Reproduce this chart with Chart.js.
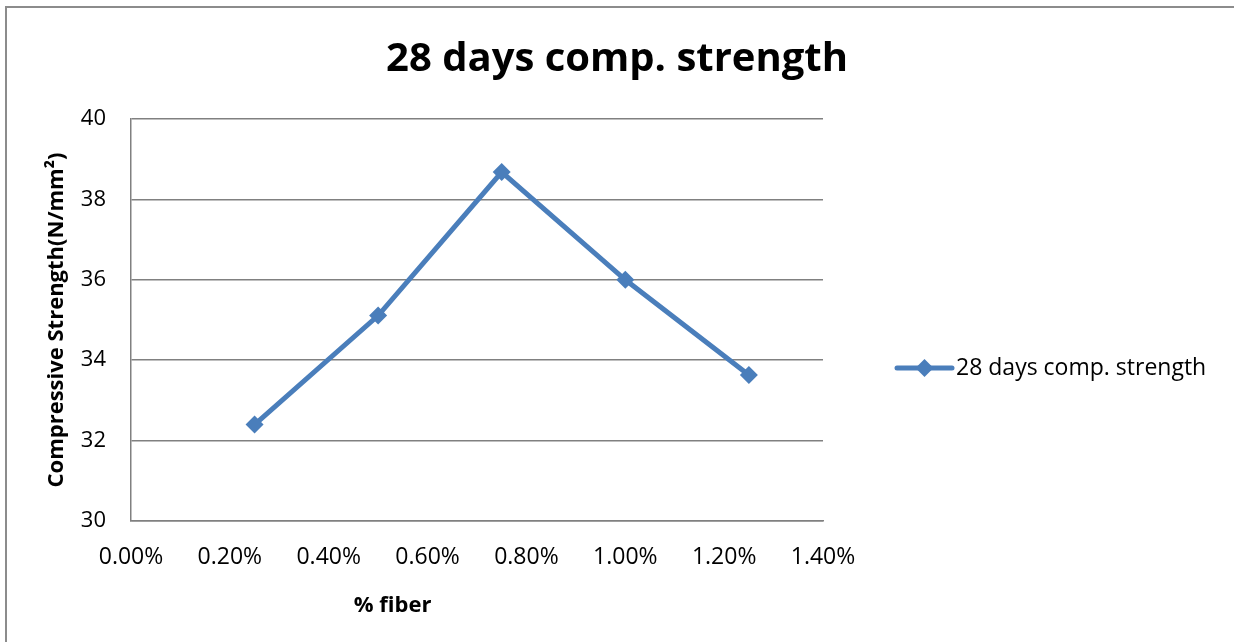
<!DOCTYPE html>
<html>
<head>
<meta charset="utf-8">
<script src="https://cdn.jsdelivr.net/npm/chart.js@4/dist/chart.umd.min.js"></script>
<style>
  html, body { margin: 0; padding: 0; background: #ffffff; }
  #wrap { width: 1234px; height: 642px; position: relative; }
</style>
</head>
<body>
<div id="wrap"><canvas id="chart" width="1234" height="642"></canvas></div>
<script>
// Fiber content (%) and 28-day compressive strength (N/mm²)
const fiberPercent = [0.25, 0.50, 0.75, 1.00, 1.25];
const strength28 = [32.40, 35.11, 38.68, 36.00, 33.63];
const seriesName = '28 days comp. strength';
const chartTitle = '28 days comp. strength';
const xAxisTitle = '% fiber';
const yAxisTitle = 'Compressive Strength(N/mm\u00B2)';
const xTicks = [0.0, 0.2, 0.4, 0.6, 0.8, 1.0, 1.2, 1.4];
const yTicks = [30, 32, 34, 36, 38, 40];

const FONT = "'Open Sans', 'Liberation Sans', sans-serif";
const LINE_BLUE = '#4A7EBB';
const GRID = '#808080';

const points = fiberPercent.map((x, i) => ({ x: x, y: strength28[i] }));

// Outer frame (left and top edges) like an embedded chart object
const framePlugin = {
  id: 'frame',
  beforeDraw(chart) {
    const ctx = chart.ctx;
    ctx.save();
    ctx.strokeStyle = '#8c8c8c';
    ctx.lineWidth = 2;
    ctx.beginPath();
    ctx.moveTo(6, chart.height);
    ctx.lineTo(6, 7);
    ctx.lineTo(chart.width, 7);
    ctx.stroke();
    ctx.restore();
  }
};

// X axis title, sitting a little left of the plot centre
const xTitlePlugin = {
  id: 'xTitle',
  afterDraw(chart) {
    const a = chart.chartArea;
    const ctx = chart.ctx;
    ctx.save();
    ctx.font = "bold 22px " + FONT;
    ctx.fillStyle = '#000';
    ctx.textAlign = 'center';
    ctx.textBaseline = 'middle';
    ctx.fillText(xAxisTitle, a.left + (a.right - a.left) * 0.378, a.bottom + 85);
    ctx.restore();
  }
};

// Legend on the right: line sample with a diamond marker, then the series name
const legendPlugin = {
  id: 'sideLegend',
  afterDraw(chart) {
    const a = chart.chartArea;
    const ds = chart.data.datasets[0];
    const ctx = chart.ctx;
    const x0 = a.right + 74;
    const x1 = x0 + 55;
    const y = (a.top + a.bottom) / 2 + 48;
    ctx.save();
    ctx.strokeStyle = ds.borderColor;
    ctx.lineWidth = ds.borderWidth;
    ctx.lineCap = 'round';
    ctx.beginPath();
    ctx.moveTo(x0, y);
    ctx.lineTo(x1, y);
    ctx.stroke();
    const cx = (x0 + x1) / 2, r = ds.pointRadius;
    ctx.fillStyle = ds.backgroundColor;
    ctx.beginPath();
    ctx.moveTo(cx, y - r);
    ctx.lineTo(cx + r, y);
    ctx.lineTo(cx, y + r);
    ctx.lineTo(cx - r, y);
    ctx.closePath();
    ctx.fill();
    ctx.font = "23px " + FONT;
    ctx.fillStyle = '#000';
    ctx.textAlign = 'left';
    ctx.textBaseline = 'middle';
    ctx.fillText(ds.label, x1 + 4, y);
    ctx.restore();
  }
};

new Chart(document.getElementById('chart'), {
  type: 'line',
  data: {
    datasets: [{
      label: seriesName,
      data: points,
      borderColor: LINE_BLUE,
      backgroundColor: LINE_BLUE,
      borderWidth: 5,
      pointStyle: 'rectRot',
      pointRadius: 9,
      pointHoverRadius: 9,
      pointBorderWidth: 0,
      tension: 0
    }]
  },
  options: {
    responsive: false,
    animation: false,
    events: [],
    layout: { padding: 0 },
    plugins: {
      legend: { display: false },
      tooltip: { enabled: false },
      title: {
        display: true,
        text: chartTitle,
        color: '#000',
        font: { family: FONT, size: 40, weight: 'bold', lineHeight: 1.2 },
        padding: { top: 36, bottom: 35 }
      }
    },
    scales: {
      x: {
        type: 'linear',
        min: 0,
        max: 1.4,
        afterBuildTicks(scale) { scale.ticks = xTicks.map(v => ({ value: v })); },
        afterFit(scale) { scale.height = 121; },
        ticks: {
          color: '#000',
          padding: 23,
          maxRotation: 0,
          font: { family: FONT, size: 23 },
          callback: v => Number(v).toFixed(2) + '%'
        },
        grid: { display: false, drawTicks: false },
        border: { display: true, color: GRID, width: 1.5 }
      },
      y: {
        min: 30,
        max: 40,
        afterBuildTicks(scale) { scale.ticks = yTicks.map(v => ({ value: v })); },
        afterFit(scale) { scale.width = 131; },
        ticks: {
          color: '#000',
          padding: 25,
          font: { family: FONT, size: 22 }
        },
        grid: { color: GRID, lineWidth: 1.5, drawTicks: false },
        border: { display: true, color: GRID, width: 1.5 },
        title: {
          display: true,
          text: yAxisTitle,
          color: '#000',
          font: { family: FONT, size: 22, weight: 'bold', lineHeight: 1.2 },
          padding: { top: 44, bottom: 0 }
        }
      },
      // empty right-hand band that keeps room for the legend
      legendSpace: {
        type: 'linear',
        position: 'right',
        display: true,
        afterFit(scale) { scale.width = 411; },
        ticks: { display: false },
        grid: { display: false, drawTicks: false },
        border: { display: false }
      }
    }
  },
  plugins: [framePlugin, xTitlePlugin, legendPlugin]
});
</script>
</body>
</html>
